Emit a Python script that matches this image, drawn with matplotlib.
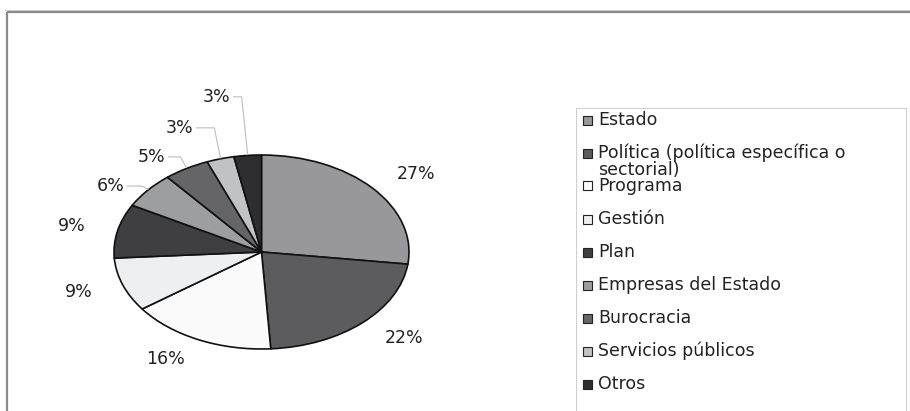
import numpy as np
import matplotlib.pyplot as plt
from matplotlib.patches import Rectangle

plt.rcParams['font.family'] = ['DejaVu Sans']

# Pie data (clockwise from 12 o'clock)
labels = [
    "Estado",
    "Política (política específica o\nsectorial)",
    "Programa",
    "Gestión",
    "Plan",
    "Empresas del Estado",
    "Burocracia",
    "Servicios públicos",
    "Otros",
]
shares = [27, 22, 16, 9, 9, 6, 5, 3, 3]
colors = ["#98989b", "#5c5c5e", "#fbfbfb", "#eeeff1", "#3f3f41",
          "#9d9ea0", "#656567", "#c1c2c4", "#2e2e30"]

# Label anchors (right end, in pie-radius units) for the small slices with leaders
leader_pos = [(-0.93, 0.68), (-0.65, 0.98), (-0.46, 1.28), (-0.21, 1.60)]

W, H = 910, 411
cx, cy, rx, ry = 261.5, 252.0, 147.5, 97.0   # ellipse centre / radii in pixels

fig = plt.figure(figsize=(W / 100, H / 100), dpi=100)
fig.patch.set_facecolor("white")

# ---- frame + legend layer (pixel coordinates) ----
ov = fig.add_axes([0, 0, 1, 1])
ov.set_xlim(0, W)
ov.set_ylim(H, 0)
ov.axis("off")

ov.plot([5, W], [10, 10], color="#d4d4d4", lw=0.8)
ov.plot([7, W], [12.5, 12.5], color="#8a8a8a", lw=1.6, solid_capstyle="butt")
ov.plot([7, 7], [12.5, H], color="#8a8a8a", lw=1.6, solid_capstyle="butt")

ov.add_patch(Rectangle((576, 108), 330, 330, fill=False,
                       edgecolor="#d0d0d0", lw=0.8))

y0, step = 120, 33
for i, (lab, c) in enumerate(zip(labels, colors)):
    y = y0 + i * step
    ov.add_patch(Rectangle((583, y - 4.5), 9, 9, facecolor=c,
                           edgecolor="#222222", lw=0.8))
    for k, line in enumerate(lab.split("\n")):
        ov.text(598, y + k * 16.5, line, fontsize=12.5, color="#222222",
                ha="left", va="center")

# ---- pie layer, stretched into an ellipse via unequal axis scaling ----
ax = fig.add_axes([0, 0, 1, 1])
ax.patch.set_alpha(0)
wedges, texts = ax.pie(
    shares,
    colors=colors,
    startangle=90,
    counterclock=False,
    labels=[f"{v}%" for v in shares],
    labeldistance=1.22,
    wedgeprops=dict(edgecolor="#111111", linewidth=1.2),
    textprops=dict(fontsize=12.5, color="#222222"),
)
ax.set_aspect("auto")
ax.set_xlim(-cx / rx, (W - cx) / rx)
ax.set_ylim((cy - H) / ry, cy / ry)
ax.axis("off")

# small slices: move labels out and draw elbow leader lines
gap = 3 / rx
elbow = 6 / rx
for w, t, (lx, ly) in zip(wedges[5:], texts[5:], leader_pos):
    mid = np.deg2rad((w.theta1 + w.theta2) / 2)
    ex, ey = np.cos(mid), np.sin(mid)
    t.set_position((lx, ly))
    t.set_ha("right")
    t.set_va("center")
    ax.plot([lx + gap, ex - elbow, ex], [ly, ly, ey + 0.01],
            color="#bdbdbd", lw=0.8)

fig.savefig("out.png", dpi=100)
